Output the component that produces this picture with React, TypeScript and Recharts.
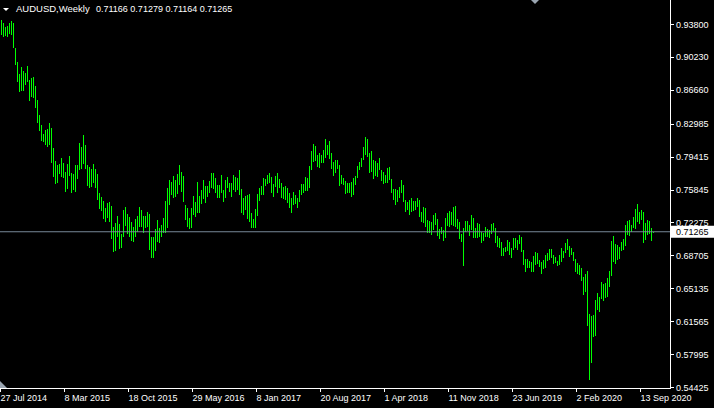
import React from 'react';
import { ComposedChart, Bar, XAxis, YAxis, ReferenceLine } from 'recharts';

// Weekly AUDUSD bars (high / low), one per week starting 27 Jul 2014
const highs: number[] = [
  0.9424, 0.9395, 0.9344, 0.9358, 0.9387, 0.9413, 0.9395, 0.9116, 0.8972, 0.8834,
  0.8910, 0.8874, 0.8852, 0.8925, 0.8773, 0.8791, 0.8802, 0.8708, 0.8556, 0.8393,
  0.8285, 0.8187, 0.8230, 0.8238, 0.8303, 0.8248, 0.8039, 0.7894, 0.7851, 0.7862,
  0.7923, 0.7869, 0.7771, 0.7862, 0.7948, 0.7760, 0.7753, 0.7851, 0.7851, 0.8086,
  0.8050, 0.8176, 0.8068, 0.7851, 0.7833, 0.7804, 0.7862, 0.7804, 0.7753, 0.7551,
  0.7500, 0.7460, 0.7381, 0.7442, 0.7453,
  0.7406, 0.7174, 0.7218, 0.7297, 0.7211, 0.7098, 0.7362, 0.7399, 0.7319, 0.7283,
  0.7232, 0.7174, 0.7265, 0.7297, 0.7391, 0.7362, 0.7297, 0.7297, 0.7341, 0.7319,
  0.7072, 0.7072, 0.7153, 0.7254, 0.7164, 0.7200, 0.7272, 0.7460, 0.7597, 0.7688,
  0.7663, 0.7731, 0.7688, 0.7753, 0.7851, 0.7775, 0.7731, 0.7417, 0.7381, 0.7272,
  0.7381, 0.7514, 0.7453, 0.7663, 0.7514, 0.7579, 0.7688, 0.7623, 0.7623, 0.7677,
  0.7760, 0.7767, 0.7713, 0.7634,
  0.7634, 0.7742, 0.7579, 0.7688, 0.7724, 0.7659, 0.7652, 0.7742, 0.7724, 0.7713,
  0.7796, 0.7587, 0.7489, 0.7514, 0.7525, 0.7536, 0.7326, 0.7261, 0.7373, 0.7536,
  0.7598, 0.7623, 0.7706, 0.7695, 0.7742, 0.7760, 0.7724, 0.7644, 0.7731, 0.7760,
  0.7695, 0.7659, 0.7608, 0.7623, 0.7598, 0.7550, 0.7489, 0.7561, 0.7525, 0.7489,
  0.7579, 0.7644, 0.7644, 0.7724, 0.7706, 0.7840, 0.8006, 0.8078, 0.8057, 0.7959,
  0.7984, 0.7959, 0.8013, 0.8129, 0.8068, 0.8114,
  0.7984, 0.7887, 0.7905, 0.7905, 0.7851, 0.7742, 0.7706, 0.7681, 0.7659, 0.7659,
  0.7670, 0.7713, 0.7731, 0.7840, 0.7887, 0.7923, 0.8049, 0.8151, 0.8133, 0.7977,
  0.8006, 0.7905, 0.7898, 0.7876, 0.7923, 0.7796, 0.7778, 0.7742, 0.7814, 0.7825,
  0.7695, 0.7587, 0.7587, 0.7579, 0.7616, 0.7688, 0.7634, 0.7471, 0.7453, 0.7471,
  0.7489, 0.7464, 0.7464, 0.7489, 0.7471, 0.7344, 0.7391, 0.7381, 0.7254, 0.7247,
  0.7236, 0.7308, 0.7326, 0.7261, 0.7153,
  0.7182, 0.7146, 0.7279, 0.7326, 0.7352, 0.7344, 0.7399, 0.7409, 0.7265, 0.7229,
  0.7098, 0.7171, 0.7243, 0.7243, 0.7200, 0.7308, 0.7279, 0.7164, 0.7218, 0.7207,
  0.7120, 0.7109, 0.7182, 0.7156, 0.7146, 0.7207, 0.7218, 0.7171, 0.7084, 0.7062,
  0.7019, 0.6954, 0.6965, 0.7037, 0.7019, 0.6947, 0.7055, 0.7062, 0.7037, 0.7091,
  0.7073, 0.6929, 0.6831, 0.6831, 0.6809, 0.6802, 0.6867, 0.6910, 0.6892, 0.6820,
  0.6802, 0.6820, 0.6874, 0.6892, 0.6939,
  0.6939, 0.6874, 0.6853, 0.6813, 0.6874, 0.6947, 0.6918, 0.7001, 0.7048, 0.6976,
  0.6947, 0.6903, 0.6831, 0.6784, 0.6766, 0.6737, 0.6639, 0.6665, 0.6701, 0.6231,
  0.6216, 0.6223, 0.6386, 0.6459, 0.6422, 0.6578, 0.6560, 0.6567, 0.6628, 0.6701,
  0.7026, 0.7080, 0.6990, 0.6983, 0.6965, 0.7012, 0.7048, 0.7200, 0.7243, 0.7254,
  0.7200, 0.7290, 0.7373, 0.7424, 0.7344, 0.7362, 0.7337, 0.7218, 0.7254, 0.7243,
  0.7171, 0.71279,
];

const lows: number[] = [
  0.9261, 0.9243, 0.9254, 0.9243, 0.9272, 0.9261, 0.9116, 0.8935, 0.8755, 0.8646,
  0.8653, 0.8657, 0.8718, 0.8755, 0.8549, 0.8585, 0.8574, 0.8473, 0.8303, 0.8223,
  0.8111, 0.8097, 0.8068, 0.8042, 0.8068, 0.7876, 0.7724, 0.7641, 0.7652, 0.7749,
  0.7724, 0.7713, 0.7561, 0.7590, 0.7735, 0.7543, 0.7579, 0.7561, 0.7695, 0.7796,
  0.7804, 0.7862, 0.7804, 0.7623, 0.7605, 0.7608, 0.7652, 0.7605, 0.7471, 0.7373,
  0.7348, 0.7265, 0.7236, 0.7272, 0.7229,
  0.7048, 0.6910, 0.6921, 0.7073, 0.6943, 0.6947, 0.7073, 0.7189, 0.7102, 0.7073,
  0.7030, 0.7019, 0.7073, 0.7127, 0.7174, 0.7182, 0.7109, 0.7164, 0.7174, 0.6929,
  0.6838, 0.6838, 0.6921, 0.7019, 0.7008, 0.7073, 0.7117, 0.7117, 0.7164, 0.7417,
  0.7525, 0.7496, 0.7500, 0.7536, 0.7634, 0.7561, 0.7453, 0.7254, 0.7174, 0.7153,
  0.7164, 0.7308, 0.7290, 0.7334, 0.7326, 0.7428, 0.7478, 0.7435, 0.7500, 0.7543,
  0.7597, 0.7587, 0.7543, 0.7489,
  0.7489, 0.7543, 0.7453, 0.7489, 0.7598, 0.7561, 0.7507, 0.7579, 0.7561, 0.7579,
  0.7525, 0.7334, 0.7308, 0.7362, 0.7261, 0.7236, 0.7171, 0.7171, 0.7171, 0.7297,
  0.7464, 0.7525, 0.7525, 0.7623, 0.7644, 0.7652, 0.7550, 0.7500, 0.7616, 0.7543,
  0.7598, 0.7489, 0.7478, 0.7471, 0.7442, 0.7381, 0.7334, 0.7417, 0.7428, 0.7381,
  0.7453, 0.7525, 0.7543, 0.7572, 0.7572, 0.7598, 0.7796, 0.7887, 0.7898, 0.7825,
  0.7814, 0.7869, 0.7876, 0.7923, 0.7959, 0.7912,
  0.7804, 0.7731, 0.7760, 0.7804, 0.7623, 0.7644, 0.7634, 0.7536, 0.7543, 0.7550,
  0.7507, 0.7525, 0.7634, 0.7706, 0.7796, 0.7825, 0.7905, 0.7959, 0.7934, 0.7767,
  0.7778, 0.7695, 0.7731, 0.7724, 0.7796, 0.7681, 0.7644, 0.7652, 0.7659, 0.7688,
  0.7543, 0.7471, 0.7417, 0.7453, 0.7489, 0.7543, 0.7453, 0.7344, 0.7362, 0.7308,
  0.7344, 0.7355, 0.7362, 0.7391, 0.7283, 0.7236, 0.7218, 0.7174, 0.7109, 0.7109,
  0.7091, 0.7146, 0.7200, 0.7080, 0.7044,
  0.7098, 0.7026, 0.7055, 0.7193, 0.7182, 0.7200, 0.7193, 0.7182, 0.7156, 0.7044,
  0.7019, 0.6759, 0.7120, 0.7135, 0.7084, 0.7146, 0.7062, 0.7062, 0.7062, 0.7073,
  0.7008, 0.7026, 0.7073, 0.7066, 0.7062, 0.7098, 0.7135, 0.7001, 0.6965, 0.6954,
  0.6867, 0.6867, 0.6903, 0.6918, 0.6874, 0.6838, 0.6929, 0.6954, 0.6929, 0.6990,
  0.6910, 0.6766, 0.6686, 0.6737, 0.6737, 0.6694, 0.6694, 0.6766, 0.6773, 0.6748,
  0.6665, 0.6722, 0.6737, 0.6809, 0.6820,
  0.6845, 0.6777, 0.6784, 0.6759, 0.6766, 0.6802, 0.6838, 0.6892, 0.6929, 0.6856,
  0.6874, 0.6809, 0.6694, 0.6665, 0.6657, 0.6592, 0.6440, 0.6477, 0.6108, 0.5518,
  0.5706, 0.5988, 0.5999, 0.6278, 0.6260, 0.6397, 0.6375, 0.6412, 0.6422, 0.6531,
  0.6650, 0.6802, 0.6773, 0.6820, 0.6831, 0.6918, 0.6929, 0.6976, 0.7091, 0.7084,
  0.7127, 0.7164, 0.7156, 0.7236, 0.7207, 0.7254, 0.7008, 0.7037, 0.7091, 0.7098,
  0.7026, 0.71164,
];

const dateTickIndex: number[] = [0, 32, 64, 96, 128, 160, 192, 224, 256, 288, 320];
const dateTickLabels: string[] = [
  '27 Jul 2014', '8 Mar 2015', '18 Oct 2015', '29 May 2016', '8 Jan 2017',
  '20 Aug 2017', '1 Apr 2018', '11 Nov 2018', '23 Jun 2019', '2 Feb 2020', '13 Sep 2020',
];
const priceTicks: number[] = [
  0.938, 0.9023, 0.8666, 0.82985, 0.79415, 0.75845, 0.72275, 0.68705, 0.65135, 0.61565, 0.57995, 0.54425,
];
const symbolTitle = 'AUDUSD,Weekly';
const lastQuote: number[] = [0.71166, 0.71279, 0.71164, 0.71265];
const bidPrice = 0.71265;
const priceDomain: [number, number] = [0.54317, 0.964033];

const data = highs.map((h, i) => ({ idx: i, range: [lows[i], h] }));

const FONT = '"Liberation Sans", Arial, sans-serif';
const W = 714;
const H = 408;
const BAR_COLOR = '#00ff00';

const XTick = (props: any) => {
  const { x, y, payload } = props;
  const k = dateTickIndex.indexOf(payload.value);
  return (
    <g>
      <line x1={x - 0.5} x2={x - 0.5} y1={y} y2={y + 4} stroke="#ffffff" strokeWidth={1} />
      <text x={x - 0.5} y={y + 13} fill="#ffffff" fontSize={9} fontFamily={FONT} textAnchor="start">
        {k >= 0 ? dateTickLabels[k] : ''}
      </text>
    </g>
  );
};

const YTick = (props: any) => {
  const { x, y, payload } = props;
  const yy = Math.round(y) + 0.5;
  return (
    <g>
      <line x1={x} x2={x + 4} y1={yy} y2={yy} stroke="#ffffff" strokeWidth={1} />
      <text x={x + 6} y={y + 3.5} fill="#ffffff" fontSize={9} fontFamily={FONT} textAnchor="start">
        {Number(payload.value).toFixed(5)}
      </text>
    </g>
  );
};

const BidLabel = (props: any) => {
  const vb = props.viewBox || {};
  const x = (vb.x || 0) + (vb.width || 0) + 1;
  const y = vb.y || 0;
  return (
    <g>
      <rect x={x} y={y - 6} width={43} height={12} fill="#ffffff" />
      <text x={x + 5} y={y + 3.5} fill="#000000" fontSize={9} fontFamily={FONT} textAnchor="start">
        {bidPrice.toFixed(5)}
      </text>
    </g>
  );
};

// High-low bar drawn as a 1px vertical stroke at the bar position from the library
const HLBar = (props: any) => {
  const { x, y, height } = props;
  if (x == null || y == null || height == null) return null;
  const top = Math.round(y);
  const bottom = Math.max(top + 1, Math.round(y + height));
  const cx = Math.round(x) + 0.5;
  return (
    <line
      x1={cx}
      x2={cx}
      y1={top}
      y2={bottom}
      stroke={BAR_COLOR}
      strokeWidth={1}
      style={{ stroke: BAR_COLOR, fill: BAR_COLOR, opacity: 1 }}
    />
  );
};

export default function App() {
  return (
    <div style={{ position: 'fixed', left: 0, top: 0, width: W, height: H, background: '#000', overflow: 'hidden' }}>
      <svg
        width={W}
        height={H}
        style={{ position: 'absolute', left: 0, top: 0, pointerEvents: 'none' }}
      >
        <line x1={670.5} x2={670.5} y1={0} y2={389} stroke="#ffffff" strokeWidth={1} />
        <line x1={0} x2={671} y1={388.5} y2={388.5} stroke="#ffffff" strokeWidth={1} />
        <polygon points="3,8 9,8 6,11" fill="#ffffff" />
        <text x={16} y={12} fill="#ffffff" fontSize={9.5} fontFamily={FONT}>{symbolTitle}</text>
        <text x={96} y={12} fill="#ffffff" fontSize={9} fontFamily={FONT}>
          {lastQuote.map((v) => v.toFixed(5)).join(' ')}
        </text>
        <polygon points="531,0 539,0 535,4" fill="#9aa5b1" />
        <polygon points="0,381 7,388 0,388" fill="#9aa5b1" />
      </svg>
      <ComposedChart
        width={W}
        height={H}
        data={data}
        margin={{ top: 0, right: 0, bottom: 0, left: 0 }}
        barCategoryGap={0}
      >
        <XAxis
          dataKey="idx"
          type="category"
          height={20}
          ticks={dateTickIndex}
          interval={0}
          padding={{ left: 0, right: 16 }}
          axisLine={false}
          tickLine={false}
          tickSize={0}
          tickMargin={0}
          tick={<XTick />}
        />
        <YAxis
          orientation="right"
          type="number"
          width={44}
          domain={priceDomain}
          ticks={priceTicks}
          interval={0}
          axisLine={false}
          tickLine={false}
          tickSize={0}
          tickMargin={0}
          tick={<YTick />}
        />
        <ReferenceLine y={bidPrice} stroke="#778899" strokeWidth={1} label={<BidLabel />} />
        <Bar
          dataKey="range"
          fill={BAR_COLOR}
          stroke={BAR_COLOR}
          barSize={1}
          isAnimationActive={false}
          shape={<HLBar />}
        />
      </ComposedChart>
    </div>
  );
}
